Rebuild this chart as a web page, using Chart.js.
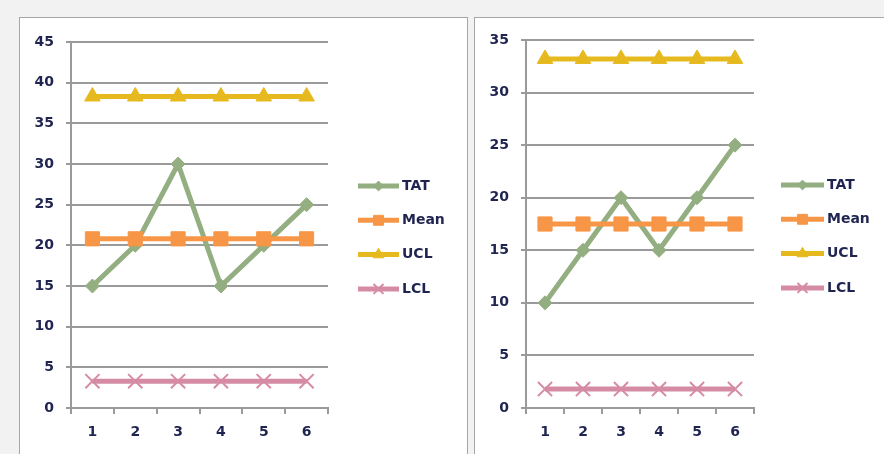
<!DOCTYPE html>
<html>
<head>
<meta charset="utf-8">
<script src="https://cdn.jsdelivr.net/npm/chart.js@4/dist/chart.umd.min.js"></script>
<style>
  html, body { margin: 0; padding: 0; background: #f2f2f2; width: 884px; height: 454px; overflow: hidden; }
  .panel { position: absolute; background: #fff; border: 1px solid #a6a6a6; box-sizing: border-box; }
  #boxLeft { left: 19px; top: 17px; width: 449px; height: 450px; }
  #boxRight { left: 474px; top: 17px; width: 420px; height: 450px; }
  canvas { position: absolute; left: 0; top: 0; }
</style>
</head>
<body>
<div class="panel" id="boxLeft"><canvas id="chartLeft" width="448" height="437"></canvas></div>
<div class="panel" id="boxRight"><canvas id="chartRight" width="410" height="437"></canvas></div>
<script>
// data
const categories = ["1", "2", "3", "4", "5", "6"];
const seriesNames = ["TAT", "Mean", "UCL", "LCL"];

const tatLeft = [15, 20, 30, 15, 20, 25];
const meanLeft = [20.8, 20.8, 20.8, 20.8, 20.8, 20.8];
const uclLeft = [38.3, 38.3, 38.3, 38.3, 38.3, 38.3];
const lclLeft = [3.3, 3.3, 3.3, 3.3, 3.3, 3.3];

const tatRight = [10, 15, 20, 15, 20, 25];
const meanRight = [17.5, 17.5, 17.5, 17.5, 17.5, 17.5];
const uclRight = [33.2, 33.2, 33.2, 33.2, 33.2, 33.2];
const lclRight = [1.8, 1.8, 1.8, 1.8, 1.8, 1.8];

const COLORS = { TAT: "#93ae80", Mean: "#f79646", UCL: "#e6b91e", LCL: "#d68ba5" };
const TEXT_COLOR = "#1f2550";
const GRID_COLOR = "#9a9a9a";
const FONT = { family: "'DejaVu Sans', sans-serif", size: 14, weight: "bold" };

// legend drawn by hand: short line with marker in the middle, name to the right
const sideLegend = {
  id: "sideLegend",
  afterDraw(chart, args, opts) {
    const ctx = chart.ctx;
    ctx.save();
    chart.data.datasets.forEach((ds, i) => {
      const y = opts.y + i * opts.step;
      ctx.strokeStyle = ds.borderColor;
      ctx.lineWidth = ds.borderWidth;
      ctx.beginPath();
      ctx.moveTo(opts.x, y);
      ctx.lineTo(opts.x + opts.len, y);
      ctx.stroke();
      ctx.fillStyle = ds.pointBackgroundColor;
      ctx.strokeStyle = ds.pointBorderColor;
      ctx.lineWidth = ds.pointBorderWidth;
      Chart.helpers.drawPoint(ctx, { pointStyle: ds.pointStyle, radius: ds.pointRadius * 0.7, rotation: 0, borderWidth: ds.pointBorderWidth }, opts.x + opts.len / 2, y);
      ctx.fillStyle = TEXT_COLOR;
      ctx.font = "bold 14px 'DejaVu Sans', sans-serif";
      ctx.textBaseline = "middle";
      ctx.textAlign = "left";
      ctx.fillText(ds.label, opts.x + opts.len + 3, y);
    });
    ctx.restore();
  },
};

function makeDataset(label, data, style, radius, order) {
  const c = COLORS[label];
  return {
    label, data, order,
    borderColor: c,
    borderWidth: 5,
    tension: 0,
    pointStyle: style,
    pointRadius: radius,
    pointHoverRadius: radius,
    pointBackgroundColor: c,
    pointBorderColor: c,
    pointBorderWidth: style === "crossRot" ? 2 : 1,
  };
}

function renderControlChart(canvasId, tat, mean, ucl, lcl, yMax, yStep, pad, legend) {
  const ctx = document.getElementById(canvasId).getContext("2d");
  const datasets = [
    makeDataset(seriesNames[0], tat, "rectRot", 7, 1),
    makeDataset(seriesNames[1], mean, "rect", 10, 0),
    makeDataset(seriesNames[2], ucl, "triangle", 9, 0),
    makeDataset(seriesNames[3], lcl, "crossRot", 10, 0),
  ];
  return new Chart(ctx, {
    type: "line",
    data: { labels: categories, datasets },
    options: {
      responsive: false,
      animation: false,
      layout: { padding: pad },
      plugins: { legend: { display: false }, tooltip: { enabled: false }, sideLegend: legend },
      scales: {
        x: {
          offset: true,
          grid: { offset: true, drawOnChartArea: false, drawTicks: true, tickLength: 6, color: GRID_COLOR, lineWidth: 2 },
          border: { color: GRID_COLOR, width: 2 },
          ticks: { color: TEXT_COLOR, font: FONT, padding: 10 },
          afterFit: (s) => { s.height = 47; },
        },
        y: {
          min: 0, max: yMax,
          grid: { color: GRID_COLOR, lineWidth: 2, tickLength: 5 },
          border: { color: GRID_COLOR, width: 2 },
          ticks: { stepSize: yStep, color: TEXT_COLOR, font: FONT, padding: 12 },
          afterFit: (s) => { s.width = 51; },
        },
      },
    },
    plugins: [sideLegend],
  });
}

renderControlChart("chartLeft", tatLeft, meanLeft, uclLeft, lclLeft, 45, 5,
  { top: 24, right: 140, left: 0, bottom: 0 }, { x: 338, y: 168, step: 34.3, len: 41 });
renderControlChart("chartRight", tatRight, meanRight, uclRight, lclRight, 35, 5,
  { top: 22, right: 131, left: 0, bottom: 0 }, { x: 306, y: 167, step: 34.3, len: 43 });
</script>
</body>
</html>
